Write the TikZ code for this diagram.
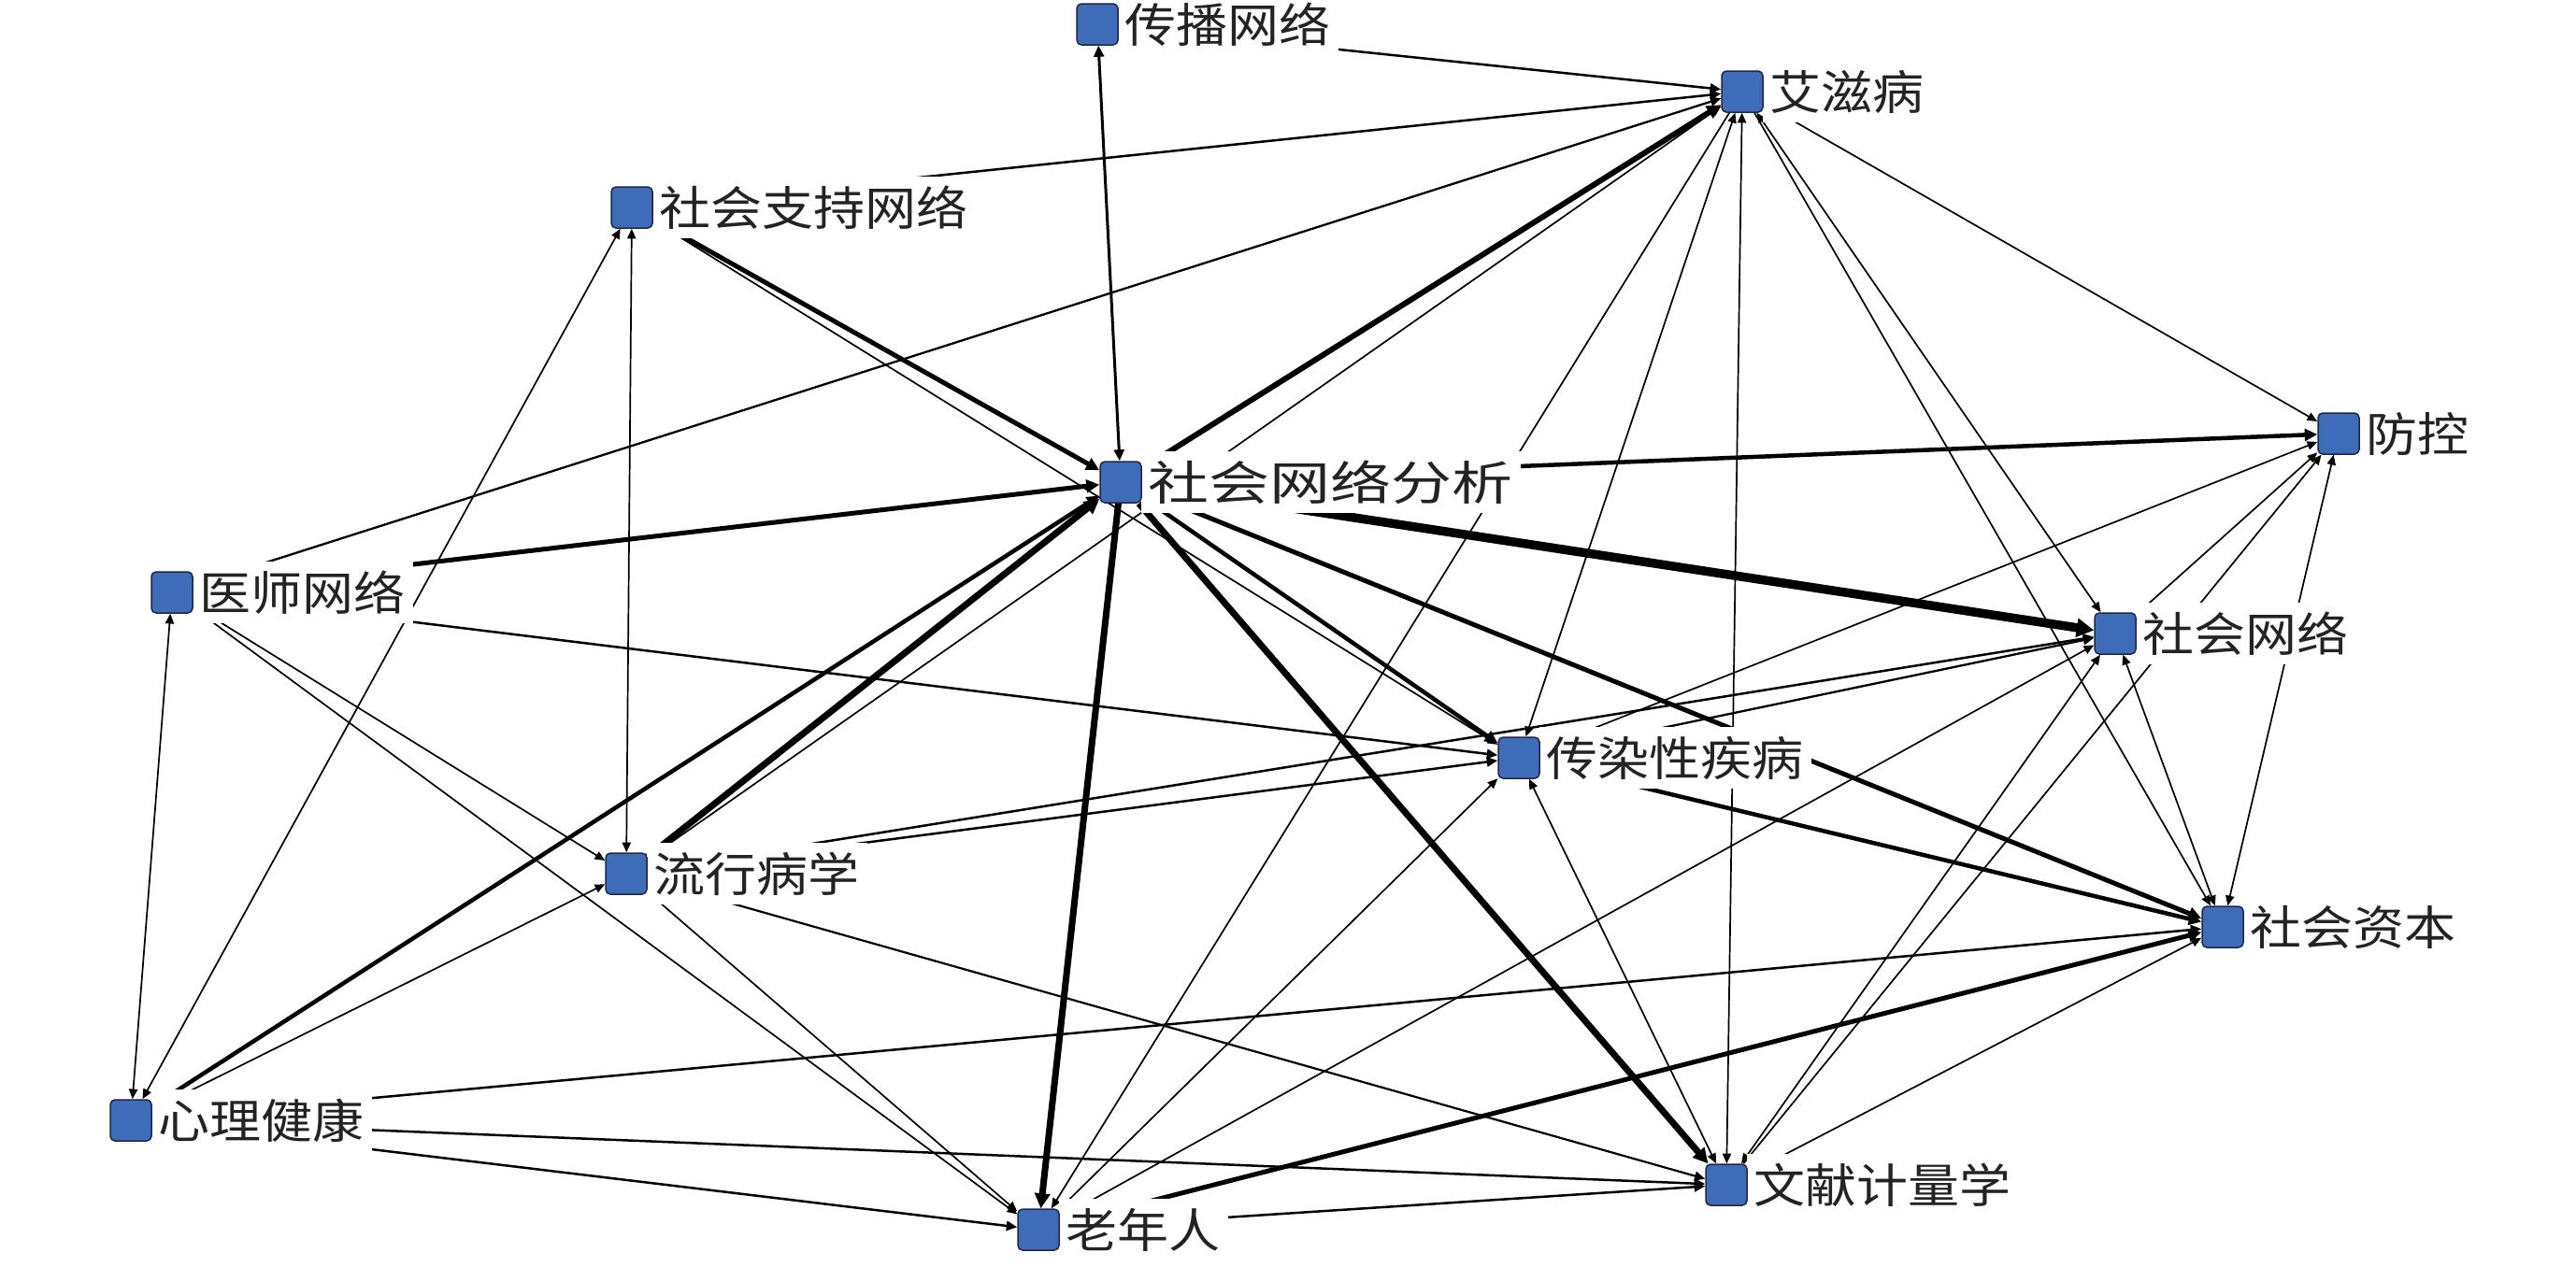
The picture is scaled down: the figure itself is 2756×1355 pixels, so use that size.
\documentclass[tikz,border=0pt]{standalone}
\usepackage{fontspec}
\newfontfamily\cjk[FakeStretch=1.1]{Noto Sans CJK SC}
\newfontfamily\cjkw[FakeStretch=1.3]{Noto Sans CJK SC}
\usetikzlibrary{arrows.meta}
\pgfdeclarelayer{bg}
\pgfdeclarelayer{lab}
\pgfsetlayers{bg,lab,main}
\definecolor{nodeblue}{RGB}{62,108,184}
\definecolor{nodeedge}{RGB}{30,40,70}
\definecolor{txt}{RGB}{35,35,35}
\tikzset{
  sq/.style={draw=nodeedge, line width=1.5pt, fill=nodeblue, rounded corners=5pt,
    minimum width=44pt, minimum height=44pt, inner sep=0pt},
  lab/.style={anchor=west, fill=white, inner xsep=8pt, inner ysep=10pt, text=txt,
    font=\cjk\fontsize{50}{50}\selectfont},
  labw/.style={lab, font=\cjkw\fontsize{50}{50}\selectfont},
  tip/.tip={Triangle[length=9pt 1, width=7pt 1.3]},
  lnk/.style={draw=black, line width=#1, -tip},
  lnk/.default=1.7pt,
  lnkb/.style={draw=black, line width=#1, tip-tip},
  lnkb/.default=1.7pt,
}
\begin{document}
\begin{tikzpicture}[x=1pt,y=-1pt]
\useasboundingbox (0,0) rectangle (2756,1355);
% squares
\node[sq] (CB)  at (1174,26)   {};
\node[sq] (AZ)  at (1864,98)   {};
\node[sq] (SZ)  at (676,222)   {};
\node[sq] (FK)  at (2502,464)  {};
\node[sq] (SNA) at (1199,516)  {};
\node[sq] (YS)  at (184,634)   {};
\node[sq] (SW)  at (2263,678)  {};
\node[sq] (CR)  at (1625,811)  {};
\node[sq] (LX)  at (670,935)   {};
\node[sq] (ZB)  at (2378,992)  {};
\node[sq] (K)   at (140,1199)  {};
\node[sq] (WX)  at (1847,1268) {};
\node[sq] (LN)  at (1111,1316) {};
% labels
\begin{pgfonlayer}{lab}
\node[lab]  (CBt)  at ([xshift=-1pt]CB.east)  {传播网络};
\node[lab]  (AZt)  at ([xshift=-1pt]AZ.east)  {艾滋病};
\node[lab]  (SZt)  at ([xshift=-1pt]SZ.east)  {社会支持网络};
\node[lab]  (FKt)  at ([xshift=-1pt]FK.east)  {防控};
\node[labw] (SNAt) at ([xshift=-1pt]SNA.east) {社会网络分析};
\node[lab]  (YSt)  at ([xshift=-1pt]YS.east)  {医师网络};
\node[lab]  (SWt)  at ([xshift=-1pt]SW.east)  {社会网络};
\node[lab]  (CRt)  at ([xshift=-1pt]CR.east)  {传染性疾病};
\node[lab]  (LXt)  at ([xshift=-1pt]LX.east)  {流行病学};
\node[lab]  (ZBt)  at ([xshift=-1pt]ZB.east)  {社会资本};
\node[lab]  (Kt)   at ([xshift=-1pt]K.east)   {心理健康};
\node[lab]  (WXt)  at ([xshift=-1pt]WX.east)  {文献计量学};
\node[lab]  (LNt)  at ([xshift=-1pt]LN.east)  {老年人};
\end{pgfonlayer}
% connectors
\begin{pgfonlayer}{bg}
\draw[lnkb=3pt] (CB) -- (SNA);
\draw[lnk=2.5pt] (CB) -- (AZ);
\draw[lnk=2.5pt] (SZ) -- (AZ);
\draw[lnk=2.3pt] (YS) -- (AZ);
\draw[lnk=6pt] (SNA) -- (AZ);
\draw[lnk] (LX) -- (AZ);
\draw[lnk=5pt] (SZ) -- (SNA);
\draw[lnk] (SZ) -- (CR);
\draw[lnkb] (SZ) -- (LX);
\draw[lnkb] (SZ) -- (K);
\draw[lnk=5pt] (YS) -- (SNA);
\draw[lnk=2.5pt] (YS) -- (CR);
\draw[lnk] (YS) -- (LX);
\draw[lnk] (YS) -- (LN);
\draw[lnkb] (YS) -- (K);
\draw[lnk=4.5pt] (K) -- (SNA);
\draw[lnk] (K) -- (LX);
\draw[lnk=2.5pt] (K) -- (ZB);
\draw[lnk=2.5pt] (K) -- (WX);
\draw[lnk=2.5pt] (K) -- (LN);
\draw[lnk=7pt] (LX) -- (SNA);
\draw[lnk=2.5pt] (LX) -- (CR);
\draw[lnk=2.5pt] (LX) -- (SW);
\draw[lnk] (LX) -- (LN);
\draw[lnk=2.2pt] (LX) -- (WX);
\draw[lnk=7pt] (SNA) -- (LN);
\draw[lnk=7pt] (SNA) -- (WX);
\draw[lnk=4.5pt] (SNA) -- (CR);
\draw[lnk=5pt] (SNA) -- (ZB);
\draw[lnk=9.5pt] (SNA) -- (SW);
\draw[lnk=4.5pt] (SNA) -- (FK);
\draw[lnk] (AZ) -- (LN);
\draw[lnkb] (AZ) -- (CR);
\draw[lnkb] (AZ) -- (WX);
\draw[lnk] (AZ) -- (ZB);
\draw[lnkb] (AZ) -- (SW);
\draw[lnk] (AZ) -- (FK);
\draw[lnk] (LN) -- (CR);
\draw[lnk] (LN) -- (SW);
\draw[lnk=5pt] (LN) -- (ZB);
\draw[lnk=2.5pt] (LN) -- (WX);
\draw[lnk=4.5pt] (CR) -- (ZB);
\draw[lnk] (CR) -- (FK);
\draw[lnk=2.3pt] (CR) -- (SW);
\draw[lnkb] (CR) -- (WX);
\draw[lnkb] (WX) -- (SW);
\draw[lnk] (WX) -- (FK);
\draw[lnk] (WX) -- (ZB);
\draw[lnk] (SW) -- (FK);
\draw[lnkb] (SW) -- (ZB);
\draw[lnkb] (ZB) -- (FK);
\end{pgfonlayer}
\end{tikzpicture}
\end{document}
